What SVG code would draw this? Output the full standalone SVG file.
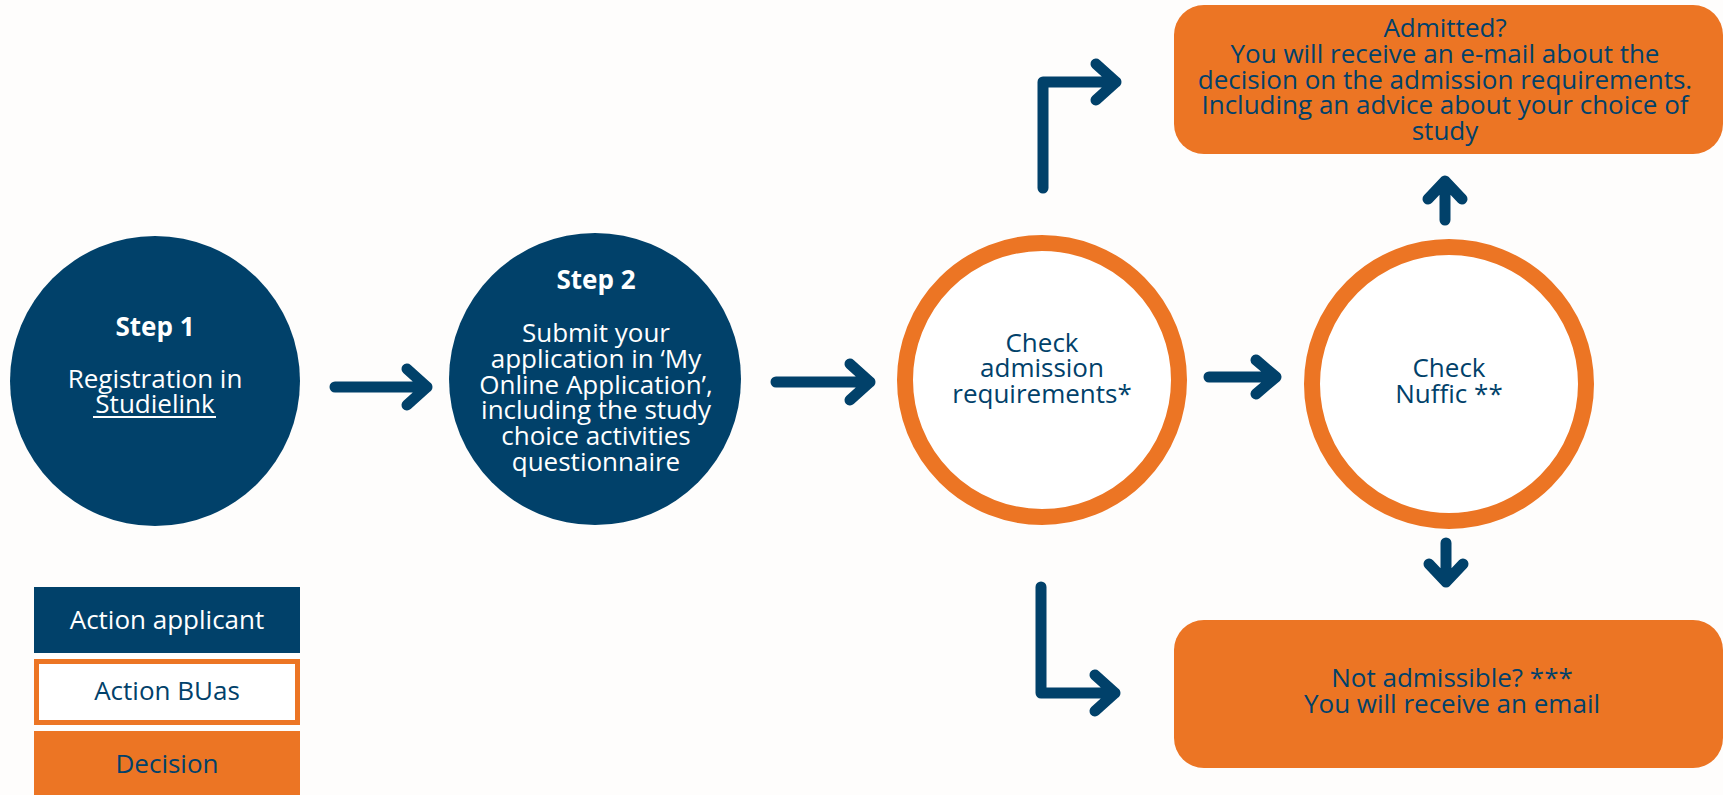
<svg xmlns="http://www.w3.org/2000/svg" width="1723" height="795" viewBox="0 0 1723 795">
  <defs>
    <style>
      .bg { fill: #FEFDFC; }
      .navy { fill: #01416A; }
      .orange { fill: #EC7524; }
      .ring { fill: #FFFFFF; stroke: #EC7524; stroke-width: 16; }
      .conn { fill: none; stroke: #01416A; stroke-width: 11; stroke-linecap: round; stroke-linejoin: round; }
      text { font-family: "Open Sans", "Noto Sans", "Liberation Sans", sans-serif; font-size: 26px; text-anchor: middle; }
      .w { fill: #FFFFFF; }
      .n { fill: #01416A; }
      .b { font-weight: bold; }
    </style>
  </defs>
  <rect class="bg" x="0" y="0" width="1723" height="795"/>

  <g id="connectors">
    <path class="conn" d="M335,387 H427 M407,369 L427,387 L407,405"/>
    <path class="conn" d="M776,382 H870 M850,364 L870,382 L850,400"/>
    <path class="conn" d="M1209,377 H1276 M1256,360 L1276,377 L1256,394"/>
    <path class="conn" d="M1043,188 V82 H1116 M1096,64 L1116,82 L1096,100"/>
    <path class="conn" d="M1041,587 V693 H1115 M1095,675 L1115,693 L1095,711"/>
    <path class="conn" d="M1445,220 V181 M1428,199 L1445,181 L1462,199"/>
    <path class="conn" d="M1446,543 V582 M1429,564 L1446,582 L1463,564"/>
  </g>

  <g id="step1">
    <circle class="navy" cx="155" cy="381" r="145"/>
    <text class="w b" x="155" y="336">Step 1</text>
    <text class="w" x="155" y="388">Registration in</text>
    <text class="w" x="155" y="413">Studielink</text>
    <rect class="w" x="93" y="416" width="123" height="2"/>
  </g>

  <g id="step2">
    <circle class="navy" cx="595" cy="379" r="146"/>
    <text class="w b" x="596" y="289">Step 2</text>
    <text class="w" x="596" y="342">Submit your</text>
    <text class="w" x="596" y="368">application in ‘My</text>
    <text class="w" x="596" y="394">Online Application’,</text>
    <text class="w" x="596" y="419">including the study</text>
    <text class="w" x="596" y="445">choice activities</text>
    <text class="w" x="596" y="471">questionnaire</text>
  </g>

  <g id="check-admission">
    <circle class="ring" cx="1042" cy="380" r="137"/>
    <text class="n" x="1042" y="352">Check</text>
    <text class="n" x="1042" y="377">admission</text>
    <text class="n" x="1042" y="403">requirements*</text>
  </g>

  <g id="check-nuffic">
    <circle class="ring" cx="1449" cy="384" r="137"/>
    <text class="n" x="1449" y="377">Check</text>
    <text class="n" x="1449" y="403">Nuffic **</text>
  </g>

  <g id="admitted">
    <rect class="orange" x="1174" y="5" width="549" height="149" rx="30" ry="30"/>
    <text class="n" x="1445" y="37">Admitted?</text>
    <text class="n" x="1445" y="63">You will receive an e-mail about the</text>
    <text class="n" x="1445" y="89">decision on the admission requirements.</text>
    <text class="n" x="1445" y="114">Including an advice about your choice of</text>
    <text class="n" x="1445" y="140">study</text>
  </g>

  <g id="not-admissible">
    <rect class="orange" x="1174" y="620" width="549" height="148" rx="30" ry="30"/>
    <text class="n" x="1452" y="687">Not admissible? ***</text>
    <text class="n" x="1452" y="713">You will receive an email</text>
  </g>

  <g id="legend-applicant">
    <rect class="navy" x="34" y="587" width="266" height="66"/>
    <text class="w" x="167" y="629">Action applicant</text>
  </g>
  <g id="legend-buas">
    <rect x="36.5" y="661.5" width="261" height="61" fill="#FFFFFF" stroke="#EC7524" stroke-width="5"/>
    <text class="n" x="167" y="700">Action BUas</text>
  </g>
  <g id="legend-decision">
    <rect class="orange" x="34" y="731" width="266" height="64"/>
    <text class="n" x="167" y="773">Decision</text>
  </g>
</svg>
